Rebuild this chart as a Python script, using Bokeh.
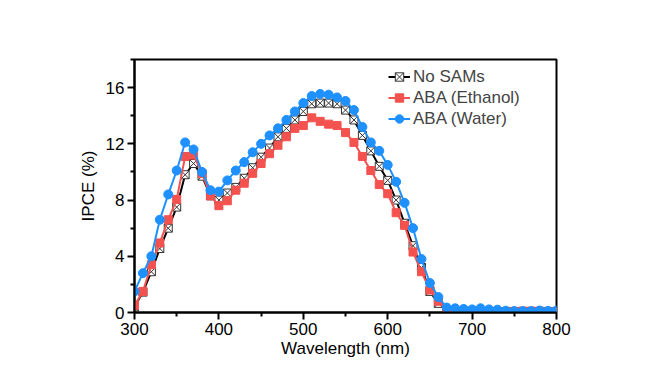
from bokeh.plotting import figure
from bokeh.models import Range1d, FixedTicker, Legend
from bokeh.embed import file_html
from bokeh.resources import INLINE

wavelength = list(range(300, 801, 10))

no_sams = [0.4, 1.45, 2.9, 4.55, 6.0, 7.5, 9.8, 10.6, 9.7, 8.3,
           8.0, 8.5, 8.9, 9.55, 10.3, 11.05, 11.7, 12.5, 13.1, 13.7,
           14.3, 14.85, 14.9, 14.9, 14.85, 14.4, 13.7, 12.6, 11.5, 10.4,
           9.4, 8.0, 6.35, 4.75, 3.2, 1.5, 0.65, 0.1, 0.05, 0.05,
           0.05, 0.05, 0.05, 0.05, 0.05, 0.05, 0.05, 0.05, 0.05, 0.05, 0.05]

aba_ethanol = [0.5, 1.5, 3.4, 4.95, 6.6, 8.05, 11.1, 11.2, 9.9, 8.3,
               7.6, 7.95, 8.7, 9.2, 9.9, 10.6, 11.3, 11.9, 12.5, 13.1,
               13.3, 13.85, 13.6, 13.4, 13.3, 12.8, 12.1, 11.1, 10.1, 9.1,
               8.45, 7.1, 6.2, 4.3, 2.9, 1.6, 0.8, 0.1, 0.05, 0.05,
               0.05, 0.05, 0.05, 0.05, 0.05, 0.08, 0.1, 0.1, 0.1, 0.05, 0.05]

aba_water = [1.5, 2.8, 4.0, 6.6, 8.4, 10.1, 12.1, 11.6, 10.0, 8.7,
             8.6, 9.4, 10.1, 10.7, 11.4, 12.0, 12.6, 13.1, 13.7, 14.3,
             14.9, 15.4, 15.55, 15.5, 15.3, 15.05, 14.4, 13.2, 12.1, 11.5,
             10.5, 9.3, 7.8, 6.0, 3.8, 2.1, 1.1, 0.35, 0.3, 0.25,
             0.22, 0.3, 0.22, 0.2, 0.13, 0.1, 0.1, 0.1, 0.14, 0.12, 0.14]

x_ticks = [300, 400, 500, 600, 700, 800]
x_minor = [350, 450, 550, 650, 750]
y_ticks = [0, 4, 8, 12, 16]
y_minor = [2, 6, 10, 14, 18]

FONT = "Liberation Sans"
BLACK = "#000000"
RED = "#F4524F"
BLUE = "#1E90FF"

p = figure(width=656, height=362, output_backend="svg", toolbar_location=None,
           x_range=Range1d(300, 800), y_range=Range1d(0, 18),
           min_border_left=134, min_border_right=100, min_border_top=59, min_border_bottom=50)

p.background_fill_color = "white"
p.border_fill_color = "white"
p.outline_line_color = "black"
p.outline_line_width = 2
p.xgrid.visible = False
p.ygrid.visible = False

r1l = p.line(wavelength, no_sams, line_color=BLACK, line_width=2)
r1m = p.scatter(wavelength, no_sams, marker="square_x", size=8, fill_color="white",
                line_color="#333333", line_width=1)
r2l = p.line(wavelength, aba_ethanol, line_color=RED, line_width=2)
r2m = p.scatter(wavelength, aba_ethanol, marker="square", size=8, fill_color=RED, line_color=RED)
r3l = p.line(wavelength, aba_water, line_color=BLUE, line_width=2)
r3m = p.scatter(wavelength, aba_water, marker="circle", size=9, fill_color=BLUE, line_color=BLUE)

for ax in (p.xaxis[0], p.yaxis[0]):
    ax.axis_line_width = 2
    ax.axis_line_color = "black"
    ax.major_tick_line_width = 2
    ax.minor_tick_line_width = 2
    ax.major_tick_out = 7
    ax.major_tick_in = 0
    ax.minor_tick_out = 4
    ax.minor_tick_in = 0
    ax.major_label_text_font = FONT
    ax.major_label_text_font_size = "17px"
    ax.major_label_text_color = "black"
    ax.axis_label_text_font = FONT
    ax.axis_label_text_font_size = "17px"
    ax.axis_label_text_font_style = "normal"
    ax.axis_label_text_color = "black"

p.xaxis[0].ticker = FixedTicker(ticks=x_ticks, minor_ticks=x_minor)
p.yaxis[0].ticker = FixedTicker(ticks=y_ticks, minor_ticks=y_minor)
p.xaxis[0].axis_label = "Wavelength (nm)"
p.yaxis[0].axis_label = "IPCE (%)"
p.xaxis[0].major_label_standoff = 3
p.xaxis[0].axis_label_standoff = 1
p.yaxis[0].major_label_standoff = 3
p.yaxis[0].axis_label_standoff = 5

legend = Legend(items=[("No SAMs", [r1l, r1m]),
                       ("ABA (Ethanol)", [r2l, r2m]),
                       ("ABA (Water)", [r3l, r3m])],
                location=(249, 178))
legend.label_text_font = FONT
legend.label_text_font_size = "17px"
legend.label_height = 21
legend.glyph_height = 21
legend.glyph_width = 22
legend.label_standoff = 3
legend.spacing = 0
legend.padding = 5
legend.margin = 0
legend.border_line_alpha = 0
legend.background_fill_alpha = 0
p.add_layout(legend)

open("out.html", "w").write(file_html(p, INLINE))
